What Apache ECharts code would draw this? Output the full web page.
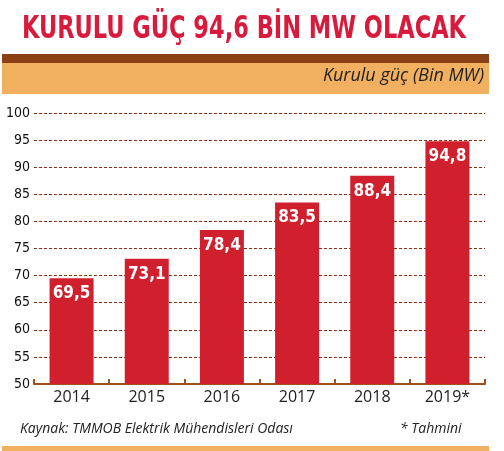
<!DOCTYPE html><html><head><meta charset="utf-8"><script src="https://cdn.jsdelivr.net/npm/echarts@6/dist/echarts.min.js"></script>
<style>html,body{margin:0;padding:0;background:#fff}#c{width:504px;height:451px}</style></head><body><div id="c"></div><script>
const categories=['2014','2015','2016','2017','2018','2019*'];
const values=[69.5,73.1,78.4,83.5,88.4,94.8];
const yTicks=[50,55,60,65,70,75,80,85,90,95,100];
const ch=echarts.init(document.getElementById('c'));
ch.setOption({
animation:false,
graphic:[
{type:'text',x:244,y:14,scaleY:1.25,style:{text:'KURULU GÜÇ 94,6 BİN MW OLACAK',align:'center',fill:'#d81b3c',font:'bold 25px "DejaVu Sans Condensed"'}},
{type:'rect',shape:{x:2,y:54,width:487,height:9},style:{fill:'#8a3f14'}},
{type:'rect',shape:{x:2,y:63,width:487,height:31},style:{fill:'#f1b060'}},
{type:'text',right:20,top:67,style:{text:'Kurulu güç (Bin MW)',fill:'#222',font:'italic 18px "Open Sans"'}},
{type:'text',left:20,top:422,style:{text:'Kaynak: TMMOB Elektrik Mühendisleri Odası',fill:'#222',font:'italic 14px "Open Sans"'}},
{type:'text',left:400,top:422,style:{text:'* Tahmini',fill:'#222',font:'italic 14px "Open Sans"'}},
{type:'rect',shape:{x:2,y:446,width:487,height:5},style:{fill:'#f1b060'}}
],
grid:{left:34,right:19,top:113,bottom:67},
xAxis:{type:'category',data:categories,axisLine:{lineStyle:{color:'#a0501a',width:2}},axisTick:{show:true,inside:true,length:5,lineStyle:{color:'#a0501a',width:2}},axisLabel:{color:'#222',fontSize:16,fontFamily:'Open Sans',margin:5}},
yAxis:{type:'value',min:50,max:100,interval:5,axisLine:{show:false},axisTick:{show:false},axisLabel:{color:'#111',fontSize:14,fontFamily:'DejaVu Sans Condensed',margin:4,formatter:v=>yTicks.includes(v)?String(v):''},splitLine:{lineStyle:{color:'#8a3010',type:[3,2],width:1.2}}},
series:[{type:'bar',data:values,barWidth:44,itemStyle:{color:'#d0202e'},label:{show:true,position:'insideTop',distance:7,color:'#fff',fontSize:17,fontWeight:'bold',fontFamily:'DejaVu Sans Condensed',formatter:p=>String(p.value).replace('.',',')}}]
});
</script></body></html>
